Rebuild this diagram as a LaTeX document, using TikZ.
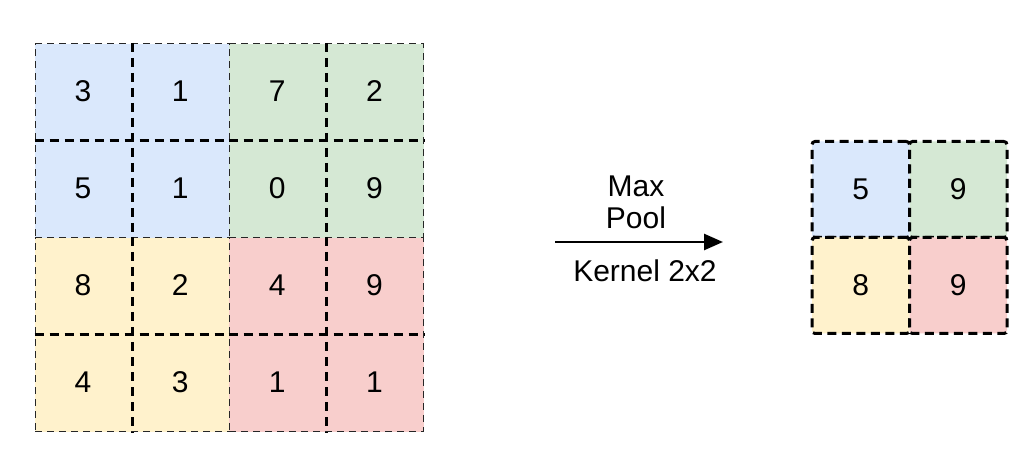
\documentclass[tikz,border=0pt]{standalone}
\usepackage{fontspec}
\setmainfont{Liberation Sans}
\usetikzlibrary{arrows.meta}
\definecolor{poolblue}{HTML}{DAE8FC}
\definecolor{poolgreen}{HTML}{D5E8D4}
\definecolor{poolyellow}{HTML}{FFF2CC}
\definecolor{poolred}{HTML}{F8CECC}
\begin{document}
\begin{tikzpicture}[x=1pt,y=-1pt,
  block/.style={draw=black!85, line width=1.4pt, dash pattern=on 7pt off 5pt,
    minimum width=194.2pt, minimum height=194pt, inner sep=0pt, anchor=north west},
  crossline/.style={line width=3pt, dash pattern=on 9pt off 6pt},
  num/.style={font=\fontsize{30}{30}\selectfont, inner sep=0pt},
  outcell/.style={draw=black, line width=3pt, dash pattern=on 9pt off 5.5pt,
    rounded corners=3pt, minimum width=97.5pt, minimum height=96pt,
    inner sep=0pt, anchor=north west, font=\fontsize{30}{30}\selectfont},
  lbl/.style={font=\fontsize{30}{30}\selectfont, inner sep=0pt},
  flow/.style={line width=2.6pt, -{Triangle[length=19pt,width=16pt]}}
]
\useasboundingbox (0,0) rectangle (1029,457);

% input feature map: four 2x2 pooling windows
\node[block, fill=poolblue]   (bA) at (34.5,43)  {};
\node[block, fill=poolgreen]  (bB) at (228.7,43) {};
\node[block, fill=poolyellow] (bC) at (34.5,237) {};
\node[block, fill=poolred]    (bD) at (228.7,237) {};

% dividers inside each window
\foreach \b in {bA,bB,bC,bD}{
  \draw[crossline] (\b.north) -- (\b.south);
  \draw[crossline] (\b.west) -- (\b.east);
}

% input values
\node[num] (v11) at (83.05,91.5)  {3};
\node[num] (v12) at (180.15,91.5) {1};
\node[num] (v13) at (277.25,91.5) {7};
\node[num] (v14) at (374.35,91.5) {2};
\node[num] (v21) at (83.05,188.5)  {5};
\node[num] (v22) at (180.15,188.5) {1};
\node[num] (v23) at (277.25,188.5) {0};
\node[num] (v24) at (374.35,188.5) {9};
\node[num] (v31) at (83.05,285.5)  {8};
\node[num] (v32) at (180.15,285.5) {2};
\node[num] (v33) at (277.25,285.5) {4};
\node[num] (v34) at (374.35,285.5) {9};
\node[num] (v41) at (83.05,382.5)  {4};
\node[num] (v42) at (180.15,382.5) {3};
\node[num] (v43) at (277.25,382.5) {1};
\node[num] (v44) at (374.35,382.5) {1};

% operation arrow and its labels
\coordinate (arrS) at (555,242);
\coordinate (arrE) at (723,242);
\draw[flow] (arrS) -- (arrE);
\node[lbl] (tMax)    at (636,186) {Max};
\node[lbl] (tPool)   at (636,218) {Pool};
\node[lbl] (tKernel) at (645,271) {Kernel 2x2};

% pooled output
\node[outcell, fill=poolblue]   (o11) at (810.5,140)  {5};
\node[outcell, fill=poolgreen]  (o12) at (908,140)    {9};
\node[outcell, fill=poolyellow] (o21) at (810.5,236)  {8};
\node[outcell, fill=poolred]    (o22) at (908,236)    {9};
\end{tikzpicture}
\end{document}
